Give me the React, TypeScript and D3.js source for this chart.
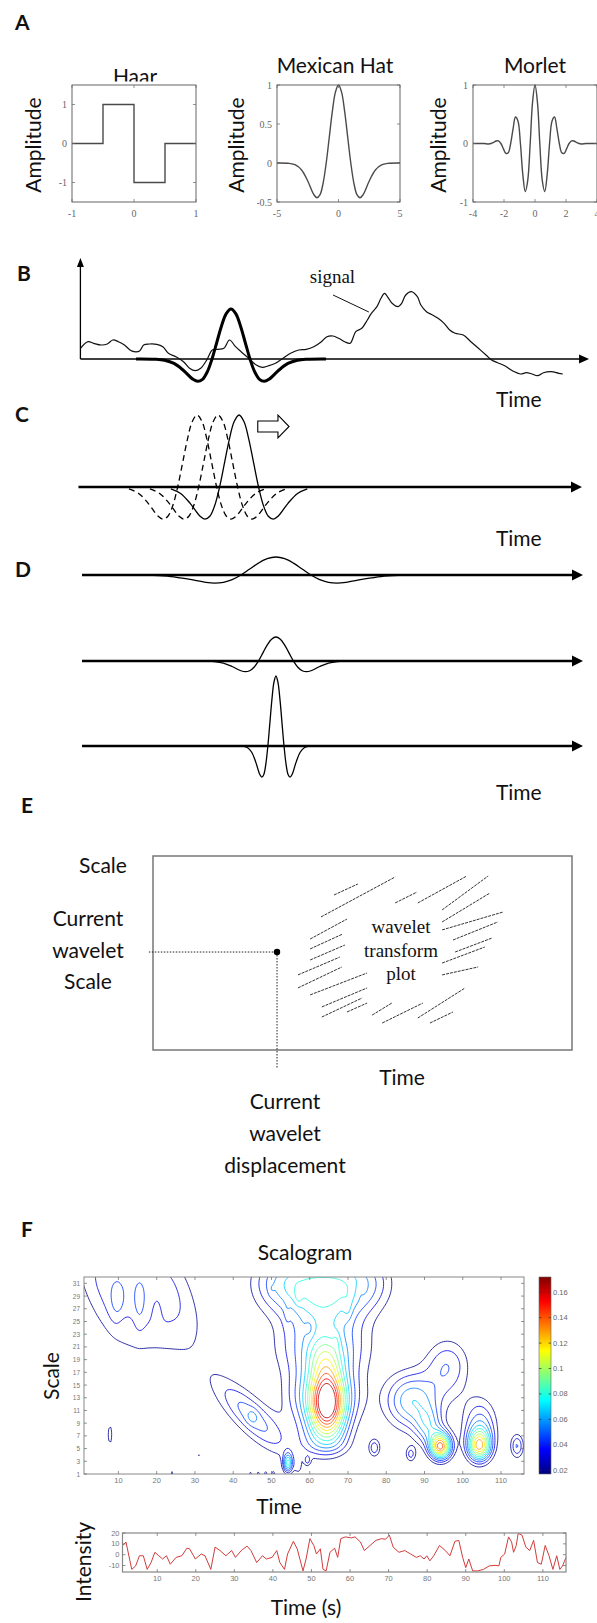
import React, { useEffect, useRef } from 'react';
import * as d3 from 'd3';

const W = 597;
const H = 1623;
const SANS = 'Lato, "Open Sans", "DejaVu Sans", sans-serif';
const SERIF = '"Liberation Serif", "DejaVu Serif", serif';
const SMALL = '"Liberation Sans", Arial, sans-serif';

// ---- A: mother wavelets ----
const haarT = [-1, -0.5, -0.5, 0, 0, 0.5, 0.5, 1];
const haarV = [0, 0, 1, 1, -1, -1, 0, 0];

const mexHatT = [-5, -4, -3.5, -3, -2.5, -2, -1.75, -1.5, -1.25, -1, -0.75, -0.5, -0.25, 0, 0.25, 0.5, 0.75, 1, 1.25, 1.5, 1.75, 2, 2.5, 3, 3.5, 4, 5];
const mexHatV = [0, -0.005, -0.025, -0.089, -0.23, -0.406, -0.446, -0.406, -0.258, 0, 0.33, 0.662, 0.909, 1, 0.909, 0.662, 0.33, 0, -0.258, -0.406, -0.446, -0.406, -0.23, -0.089, -0.025, -0.005, 0];

const morletT = [-4, -3.3, -3, -2.83, -2.67, -2.51, -2.36, -2.2, -2.04, -1.88, -1.73, -1.57, -1.41, -1.26, -1.1, -0.94, -0.79, -0.63, -0.47, -0.31, -0.16, 0,
  0.16, 0.31, 0.47, 0.63, 0.79, 0.94, 1.1, 1.26, 1.41, 1.57, 1.73, 1.88, 2.04, 2.2, 2.36, 2.51, 2.67, 2.83, 3, 3.3, 4];
const morletV = [0, 0, -0.008, 0, 0.02, 0.042, 0.044, 0, -0.088, -0.169, -0.159, 0, 0.26, 0.454, 0.386, 0, -0.52, -0.821, -0.633, 0, 0.698, 1,
  0.698, 0, -0.633, -0.821, -0.52, 0, 0.386, 0.454, 0.26, 0, -0.159, -0.169, -0.088, 0, 0.044, 0.042, 0.02, 0, -0.008, 0, 0];

const haarXTicks = [-1, 0, 1];
const haarYTicks = [-1, 0, 1];
const mexXTicks = [-5, 0, 5];
const mexYTicks = [-0.5, 0, 0.5, 1];
const morletXTicks = [-4, -2, 0, 2, 4];
const morletYTicks = [-1, 0, 1];

// ---- B: signal (time 0..100, amplitude) ----
const signalT = [0.1, 1.6, 2.7, 4.2, 5.4, 6.5, 7.6, 8.8, 9.9, 10.7, 11.8, 12.6, 13.7, 15.2, 16.4, 17.5, 19, 20.5, 21.7, 22.8, 23.9, 25.1, 26.2, 27.3, 28.5, 29.6, 30.8, 31.9, 33.4, 34.9, 36.1, 37.2, 38.7, 40.2, 41.7, 43.3, 44.8, 46.3, 47.8, 48.9, 50.1, 51.2, 52.4, 53.5, 54.6, 55.8, 56.9, 57.7, 58.8, 59.6, 60.3, 61.1, 61.8, 63, 63.7, 64.5, 65.6, 66.8, 67.5, 68.6, 69.8, 70.9, 72.1, 73.2, 74.3, 75.9, 77.4, 78.9, 80.4, 81.5, 82.7, 84.2, 85.7, 87.2, 88.4, 89.5, 90.6, 91.8, 93.3, 94.8, 95.6];
const signalV = [10.7, 17.3, 15.7, 14, 15, 19, 17.3, 14, 9, 7.3, 8, 14, 15, 14.7, 12.3, 5.7, 2.3, -2.7, -9.3, -11.7, -9.3, -1, 9, 9.7, 10.7, 19, 12.3, 7.3, 0.7, -6, -8.3, -7, -4.3, 0.7, 5.7, 9, 9.7, 12.3, 17.3, 22.3, 23, 20.7, 17.3, 15.7, 27.3, 30.7, 39, 45.7, 52.3, 60.7, 65.7, 60.7, 55.7, 52.3, 55.7, 64, 67.3, 62.3, 54, 47.3, 44, 40.7, 35.7, 29, 25.7, 24, 17.3, 10.7, 4, -1, -3.7, -7, -12, -15, -13.7, -15, -16.7, -13.7, -12.7, -14.3, -15];

// ---- C / D: wavelet placements ----
const cShifts = [-8.3, -4.15, 0]; // two dashed earlier positions, solid current one
const dDilation = [6.93, 3.47, 1.6];
const dAmplitude = [18, 24, 70];

// ---- E: hatch strokes of the sketched transform plot (u1, v1, u2, v2 in box %) ----
const hatch = [
  [43.2, 79.9, 48.9, 85.6], [40.1, 68.6, 57.8, 89.2], [37.5, 57.2, 46.3, 67.5], [37.5, 52.1, 45.3, 59.8],
  [37.5, 46.4, 45.8, 54.1], [34.6, 38.7, 44.6, 47.9], [34.6, 32.0, 45.1, 42.8], [37.5, 28.4, 51.1, 39.7],
  [40.3, 22.2, 51.1, 32.0], [40.3, 17.0, 49.9, 26.8], [46.3, 19.6, 51.1, 24.2], [52.3, 18.0, 57.0, 24.2],
  [54.7, 13.9, 64.4, 24.2], [63.2, 16.5, 74.5, 32.0], [66.1, 13.9, 71.6, 19.6], [69.0, 38.7, 77.6, 42.8],
  [69.0, 44.8, 79.2, 53.1], [72.1, 50.5, 80.9, 57.7], [71.6, 56.7, 82.3, 66.0], [69.0, 61.9, 83.5, 71.1],
  [69.0, 66.0, 80.4, 80.9], [69.0, 72.2, 80.0, 89.7], [63.2, 75.8, 74.9, 89.7], [57.8, 75.8, 63.0, 81.4],
];

// ---- F: scalogram peaks [time, scale, amp, widthT, widthS below, widthS above, tilt, power] ----
const scaloPeaks = [
  // central burst (funnel widening to high scales)
  [64.5, 12, 0.14, 4.5, 5, 5, 0, 2],
  [64, 19, 0.05, 5, 4, 4, 0, 2],
  [63.5, 26, 0.03, 8, 4, 5, 0, 2],
  [64, 6, 0.035, 7, 2.5, 4, 0, 2.5],
  [63.5, 13, 0.05, 10.5, 5, 5, 0, 3],
  [63.5, 21, 0.04, 13.5, 5, 5, 0, 3],
  [63, 31, 0.075, 17, 5, 5, 0, 3.5],
  [57, 2, 0.015, 1.2, 1.5, 1.5, 0, 2],
  [71, 2, 0.015, 1.2, 1.5, 1.5, 0, 2],
  [57, 29, 0.012, 1, 1.5, 1.5, 0, 2],
  [70, 27, 0.012, 1.2, 2, 2, 0, 2],
  [60, 24, -0.01, 1.2, 1.5, 1.5, 0, 2],
  [67, 22, 0.01, 1, 1.5, 1.5, 0, 2],
  [54, 26, 0.008, 0.8, 2, 2, 0, 2],
  [73, 30, -0.008, 1, 1.5, 1.5, 0, 2],
  [50, 30, 0.006, 0.7, 1, 1, 0, 2],
  // slanted blob left of the burst
  [45, 10, 0.05, 6, 6, 6, -1.3, 2],
  [45, 10, 0.012, 1.5, 1.2, 1.2, 0, 2],
  // right group
  [86.5, 12.5, 0.065, 7, 4.5, 4.5, 0, 2],
  [91, 8.5, 0.045, 3.5, 3, 3, 0, 2],
  [94.2, 5.3, 0.14, 2.8, 2, 2.2, 0, 2],
  [96, 18, 0.042, 6, 5, 4.5, 0, 2],
  [104.3, 5.3, 0.11, 3, 2.3, 2.5, 0, 2],
  [104.5, 8.5, 0.05, 4.5, 4, 4.5, 0, 2],
  // small islands
  [76.9, 5.1, 0.04, 1.6, 1.5, 1.5, 0, 2],
  [86.4, 4.1, 0.035, 1.4, 1.3, 1.3, 0, 2],
  [114.2, 5.4, 0.045, 1.8, 2, 2, 0, 2],
  [54.3, 2.7, 0.075, 1.2, 1.5, 1.5, 0, 2],
  [59.4, 3.1, 0.026, 0.8, 0.8, 0.8, 0, 2],
  [7.8, 7.2, 0.026, 0.9, 2.5, 2.5, 0, 2],
  [31.2, 3.9, 0.023, 0.7, 0.5, 0.5, 0, 2],
  [24, 1, 0.024, 0.5, 0.9, 0.9, 0, 2],
  [44.6, 1, 0.028, 0.5, 0.5, 0.5, 0, 2],
  [46.6, 1, 0.03, 0.5, 0.5, 0.5, 0, 2],
  [48.5, 1, 0.032, 0.5, 0.5, 0.5, 0, 2],
  [50.4, 1, 0.034, 0.5, 0.5, 0.5, 0, 2],
  // top-left plateau
  [15, 30, 0.04, 15, 11, 10, -0.6, 4],
  [9.5, 28, 0.012, 2, 3.5, 3.5, 0, 2],
  [15.5, 27.5, 0.01, 1.5, 4, 4, 0, 2],
  [20, 27, -0.008, 1.5, 3, 3, 0, 2],
  [12, 24.5, -0.006, 2, 1.5, 1.5, 0, 2],
];
const scaloLevels = [0.02, 0.032, 0.044, 0.056, 0.068, 0.08, 0.092, 0.104, 0.116, 0.128, 0.14, 0.152, 0.164];
const scaloXTicks = [10, 20, 30, 40, 50, 60, 70, 80, 90, 100, 110];
const scaloYTicks = d3.range(1, 32, 2);
const colorbarTicks = [0.02, 0.04, 0.06, 0.08, 0.1, 0.12, 0.14, 0.16];

// ---- F: intensity trace ----
const intensityT = [1.1, 1.9, 3.4, 4.4, 5.4, 6.4, 7.4, 8.4, 9.4, 10.4, 11.4, 12.4, 13.4, 14.9, 16.4, 17.7, 18.4, 19.9, 21.4, 22.4, 23.9, 25, 26.3, 27.8, 29.3, 30.3, 31.8, 33.3, 34.3, 35.8, 37.3, 38.3, 39.8, 41, 41.8, 43, 43.8, 45.3, 46.3, 47.8, 48.6, 49.6, 50.6, 51.3, 52.3, 53, 53.8, 54.8, 56, 56.8, 57.6, 58.8, 60.3, 61.3, 62.7, 63.7, 65.2, 66.7, 68.2, 69.2, 70.2, 71.2, 72.7, 74.2, 75.7, 77.2, 78.2, 79.2, 79.9, 80.7, 81.7, 83.2, 84.7, 85.9, 87.2, 88.2, 89.2, 90, 90.8, 91.8, 93.1, 94.6, 96.1, 97.6, 98.6, 99.1, 100.1, 101.1, 101.9, 102.4, 103.1, 103.6, 104.6, 105.6, 106.6, 107.6, 108.6, 109.6, 110.6, 111.6, 112.6, 113.6, 114.4, 115.1, 116];
const intensityV = [8.5, 11.7, -13.6, -10.4, -1, -1, -13.6, -7.3, 2.2, -1, -4, -1, -8.8, -2.5, -1, 6, 5.4, -4, 0.6, -1, -13.6, 7, 3.8, -1, 3.8, -2.5, 3.8, 7.9, 3.8, -7.3, -1, -4, -2.5, 3.8, -7.3, -13.6, 0.6, 12.3, 5.4, -15, -4, 14.8, 8.5, 0.6, 5.4, -13.6, -15, 2.2, 6, -2.5, 14.8, 16.4, 15.5, 16.4, 11.7, 3.8, 8.5, 13.2, 14.8, 14.2, 18, 6.9, 2.2, 3.8, 0.6, -2.5, -1, -4, -1, -5.7, -1, 8.5, 3.8, -1, 12.3, 13.2, -2.5, -12, -4, -15, -15, -13.6, -10.4, -9.8, -10.4, -2.5, 0.6, 16.4, 11.7, 2.2, 8.5, 19.6, 18, 6.9, 3.8, 13.2, -7.3, -8.8, 8.5, -1, -13.6, -1, -13.6, -10.4, -2.5];
const intensityXTicks = [10, 20, 30, 40, 50, 60, 70, 80, 90, 100, 110];
const intensityYTicks = [-10, 0, 10, 20];

function jet(x: number) {
  const c = (v: number) => Math.max(0, Math.min(1, v));
  const r = c(Math.min(4 * x - 1.5, -4 * x + 4.5));
  const g = c(Math.min(4 * x - 0.5, -4 * x + 3.5));
  const b = c(Math.min(4 * x + 0.5, -4 * x + 2.5));
  return d3.rgb(r * 255, g * 255, b * 255).toString();
}

export default function App() {
  const ref = useRef<SVGSVGElement>(null);

  useEffect(() => {
    if (!ref.current) return;
    const svg = d3.select(ref.current);
    svg.selectAll('*').remove();
    const defs = svg.append('defs');

    const label = (x: number, y: number, s: string, size = 21, opts: any = {}) => {
      const t = svg.append('text')
        .attr('x', x).attr('y', y).text(s)
        .attr('font-family', opts.family || SANS)
        .attr('font-size', size)
        .attr('fill', opts.fill || '#111')
        .attr('text-anchor', opts.anchor || 'middle');
      if (opts.weight) t.attr('font-weight', opts.weight);
      if (opts.rotate) {
        t.attr('x', 0).attr('y', 0).attr('dominant-baseline', 'central')
          .attr('transform', `translate(${x},${y}) rotate(-90)`);
      }
      return t;
    };

    const arrowRight = (x: number, y: number, len: number, half: number) =>
      svg.append('path').attr('d', `M${x},${y}L${x - len},${y - half}L${x - len},${y + half}Z`).attr('fill', '#000');

    // panel letters
    [['A', 15, 30], ['B', 17, 281], ['C', 15, 422], ['D', 15, 577], ['E', 21, 813], ['F', 21, 1237]].forEach(([s, x, y]) =>
      label(x as number, y as number, s as string, 21, { weight: 700, anchor: 'start' }));

    // ---------------- A ----------------
    defs.append('clipPath').attr('id', 'haarTitleClip').append('rect').attr('x', 0).attr('y', 0).attr('width', W).attr('height', 81.5);
    defs.append('clipPath').attr('id', 'mexLabelClip').append('rect').attr('x', 257).attr('y', 0).attr('width', 40).attr('height', 230);

    const small = [
      { title: 'Haar', x0: 72, x1: 196, xDom: [-1, 1], yDom: [-1.5, 1.5], xTicks: haarXTicks, yTicks: haarYTicks, ts: haarT, vs: haarV, curve: d3.curveLinear, ampX: 32.5, titleX: 135, titleY: 84, titleClip: 'haarTitleClip', labelClip: null },
      { title: 'Mexican Hat', x0: 277, x1: 400, xDom: [-5, 5], yDom: [-0.5, 1], xTicks: mexXTicks, yTicks: mexYTicks, ts: mexHatT, vs: mexHatV, curve: d3.curveCatmullRom.alpha(0.5), ampX: 235, titleX: 335, titleY: 73, titleClip: null, labelClip: 'mexLabelClip' },
      { title: 'Morlet', x0: 473, x1: 597, xDom: [-4, 4], yDom: [-1, 1], xTicks: morletXTicks, yTicks: morletYTicks, ts: morletT, vs: morletV, curve: d3.curveCatmullRom.alpha(0.5), ampX: 437, titleX: 535, titleY: 73, titleClip: null, labelClip: null },
    ];
    small.forEach(p => {
      const x = d3.scaleLinear(p.xDom, [p.x0, p.x1]);
      const y = d3.scaleLinear(p.yDom, [202, 85]);
      const g = svg.append('g');
      const pts = p.ts.map((t, i) => [t, p.vs[i]] as [number, number]);
      g.append('path')
        .attr('d', d3.line<[number, number]>().x(d => x(d[0])).y(d => y(d[1])).curve(p.curve)(pts) || '')
        .attr('fill', 'none').attr('stroke', '#4a4a4a').attr('stroke-width', 1.4);
      g.append('rect').attr('x', p.x0).attr('y', 85).attr('width', p.x1 - p.x0).attr('height', 117)
        .attr('fill', 'none').attr('stroke', '#555').attr('stroke-width', 0.9);
      p.xTicks.forEach(t => {
        g.append('line').attr('x1', x(t)).attr('x2', x(t)).attr('y1', 202).attr('y2', 199).attr('stroke', '#666').attr('stroke-width', 0.7);
        g.append('line').attr('x1', x(t)).attr('x2', x(t)).attr('y1', 85).attr('y2', 88).attr('stroke', '#666').attr('stroke-width', 0.7);
        g.append('text').attr('x', x(t)).attr('y', 217).attr('text-anchor', 'middle')
          .attr('font-family', SERIF).attr('font-size', 10).attr('fill', '#666').text(String(t));
      });
      const yl = g.append('g');
      if (p.labelClip) yl.attr('clip-path', `url(#${p.labelClip})`);
      p.yTicks.forEach(t => {
        g.append('line').attr('x1', p.x0).attr('x2', p.x0 + 3).attr('y1', y(t)).attr('y2', y(t)).attr('stroke', '#666').attr('stroke-width', 0.7);
        g.append('line').attr('x1', p.x1).attr('x2', p.x1 - 3).attr('y1', y(t)).attr('y2', y(t)).attr('stroke', '#666').attr('stroke-width', 0.7);
        yl.append('text').attr('x', p.x0 - 5).attr('y', y(t) + 3.5).attr('text-anchor', 'end')
          .attr('font-family', SERIF).attr('font-size', 10).attr('fill', '#666').text(String(t));
      });
      const tt = label(p.titleX, p.titleY, p.title, 21);
      if (p.titleClip) tt.attr('clip-path', `url(#${p.titleClip})`);
      label(p.ampX, 145, 'Amplitude', 21, { rotate: true });
    });

    // shared time axis for B, C, D
    const xT = d3.scaleLinear([0, 100], [80, 585]);
    const mexPts = mexHatT.map((t, i) => [t, mexHatV[i]] as [number, number]);
    const smooth = d3.curveCatmullRom.alpha(0.5);

    // ---------------- B ----------------
    const yB = d3.scaleLinear([0, 100], [359, 259]);
    svg.append('line').attr('x1', xT(0.08)).attr('x2', xT(0.08)).attr('y1', yB(0)).attr('y2', yB(94)).attr('stroke', '#000').attr('stroke-width', 1.3);
    svg.append('path').attr('d', `M${xT(0.08)},${yB(101)}L${xT(0.08) - 3.5},${yB(92)}L${xT(0.08) + 3.5},${yB(92)}Z`).attr('fill', '#000');
    svg.append('line').attr('x1', xT(0.08)).attr('x2', xT(99)).attr('y1', yB(0)).attr('y2', yB(0)).attr('stroke', '#000').attr('stroke-width', 1.3);
    arrowRight(xT(100.8), yB(0), 10, 4.5);
    const sigPts = signalT.map((t, i) => [t, signalV[i]] as [number, number]);
    svg.append('path')
      .attr('d', d3.line<[number, number]>().x(d => xT(d[0])).y(d => yB(d[1])).curve(smooth)(sigPts) || '')
      .attr('fill', 'none').attr('stroke', '#111').attr('stroke-width', 1.2);
    svg.append('path')
      .attr('d', d3.line<[number, number]>().x(d => xT(29.9 + d[0] * 3.76)).y(d => yB(50 * d[1])).curve(smooth)(mexPts) || '')
      .attr('fill', 'none').attr('stroke', '#000').attr('stroke-width', 3);
    label(xT(45.5), 283, 'signal', 19, { family: SERIF, anchor: 'start' });
    svg.append('line').attr('x1', xT(50.1)).attr('y1', yB(64)).attr('x2', xT(57.2)).attr('y2', yB(47)).attr('stroke', '#111').attr('stroke-width', 1);
    label(xT(86.9), 407, 'Time', 21);

    // ---------------- C ----------------
    const yC = d3.scaleLinear([0, 100], [487, 387]);
    svg.append('line').attr('x1', xT(-0.3)).attr('x2', xT(97.5)).attr('y1', yC(0)).attr('y2', yC(0)).attr('stroke', '#000').attr('stroke-width', 2.5);
    arrowRight(xT(99.4), yC(0), 11, 5.5);
    cShifts.forEach((sh, i) => {
      const p = svg.append('path')
        .attr('d', d3.line<[number, number]>().x(d => xT(31.5 + sh + d[0] * 3.86)).y(d => yC(72 * d[1])).curve(smooth)(mexPts.slice(2, -2)) || '')
        .attr('fill', 'none').attr('stroke', '#000').attr('stroke-width', 1.3);
      if (i < cShifts.length - 1) p.attr('stroke-dasharray', '6,4');
    });
    const arrowShape: [number, number][] = [[35.2, 55], [39.2, 55], [39.2, 49], [41.4, 60.5], [39.2, 72], [39.2, 66], [35.2, 66]];
    svg.append('path')
      .attr('d', d3.line<[number, number]>().x(d => xT(d[0])).y(d => yC(d[1]))(arrowShape) + 'Z')
      .attr('fill', '#fff').attr('stroke', '#000').attr('stroke-width', 1.1);
    label(xT(86.9), 546, 'Time', 21);

    // ---------------- D ----------------
    [575, 661, 746].forEach((ay, i) => {
      const yD = d3.scaleLinear([0, 100], [ay, ay - 100]);
      svg.append('line').attr('x1', xT(0.4)).attr('x2', xT(97.8)).attr('y1', ay).attr('y2', ay).attr('stroke', '#000').attr('stroke-width', 2.5);
      arrowRight(xT(99.6), ay, 11, 5.5);
      svg.append('path')
        .attr('d', d3.line<[number, number]>().x(d => xT(38.8 + d[0] * dDilation[i])).y(d => yD(dAmplitude[i] * d[1])).curve(smooth)(mexPts) || '')
        .attr('fill', 'none').attr('stroke', '#000').attr('stroke-width', 1.3);
    });
    label(xT(86.9), 800, 'Time', 21);

    // ---------------- E ----------------
    const eX = d3.scaleLinear([0, 100], [153, 572]);
    const eY = d3.scaleLinear([0, 100], [1050, 856]);
    svg.append('rect').attr('x', eX(0)).attr('y', eY(100)).attr('width', eX(100) - eX(0)).attr('height', eY(0) - eY(100))
      .attr('fill', 'none').attr('stroke', '#777').attr('stroke-width', 1.5);
    hatch.forEach(h => {
      svg.append('line').attr('x1', eX(h[0])).attr('y1', eY(h[1])).attr('x2', eX(h[2])).attr('y2', eY(h[3]))
        .attr('stroke', '#333').attr('stroke-width', 1).attr('stroke-dasharray', '3,1');
    });
    svg.append('line').attr('x1', eX(-1)).attr('x2', eX(29.6)).attr('y1', eY(50.5)).attr('y2', eY(50.5))
      .attr('stroke', '#222').attr('stroke-width', 1).attr('stroke-dasharray', '1.5,1.5');
    svg.append('line').attr('x1', eX(29.6)).attr('x2', eX(29.6)).attr('y1', eY(50.5)).attr('y2', eY(-9.3))
      .attr('stroke', '#222').attr('stroke-width', 1).attr('stroke-dasharray', '1.5,1.5');
    svg.append('circle').attr('cx', eX(29.6)).attr('cy', eY(50.5)).attr('r', 3.2).attr('fill', '#000');
    label(401, 933, 'wavelet', 19, { family: SERIF });
    label(401, 957, 'transform', 19, { family: SERIF });
    label(401, 980, 'plot', 19, { family: SERIF });
    label(103, 873, 'Scale', 21);
    label(88, 926, 'Current', 21);
    label(88, 958, 'wavelet', 21);
    label(88, 989, 'Scale', 21);
    label(402, 1085, 'Time', 21);
    label(285, 1109, 'Current', 21);
    label(285, 1141, 'wavelet', 21);
    label(285, 1173, 'displacement', 21);

    // ---------------- F: scalogram ----------------
    const sx = d3.scaleLinear([1, 116], [84, 524]);
    const sy = d3.scaleLinear([1, 32], [1474, 1277]);
    label(305, 1260, 'Scalogram', 21);
    label(50, 1376, 'Scale', 21, { rotate: true });
    label(279, 1514, 'Time', 21);

    const tMin = -2, tStep = 0.5, sMin = -1, sStep = 0.25;
    const nx = 243, ny = 141;
    const grid: number[] = new Array(nx * ny).fill(0);
    for (let j = 0; j < ny; j++) {
      const s = sMin + j * sStep;
      for (let i = 0; i < nx; i++) {
        const t = tMin + i * tStep;
        let v = 0;
        for (const p of scaloPeaks) {
          const [t0, s0, amp, wt, wsd, wsu, tilt, pw] = p;
          const dt = Math.abs(t - (t0 + tilt * (s - s0))) / wt;
          const ds = (s - s0) / (s < s0 ? wsd : wsu);
          v += amp * Math.exp(-Math.pow(dt, pw) - ds * ds);
        }
        grid[j * nx + i] = v;
      }
    }
    const cmin = 0.017, cmax = 0.172;
    const proj = d3.geoTransform({
      point: function (this: any, x: number, y: number) {
        this.stream.point(sx(tMin + (x - 0.5) * tStep), sy(sMin + (y - 0.5) * sStep));
      },
    });
    const gp = d3.geoPath(proj);
    defs.append('clipPath').attr('id', 'scaloClip').append('rect')
      .attr('x', sx(1)).attr('y', sy(32)).attr('width', sx(116) - sx(1)).attr('height', sy(1) - sy(32));
    const cg = svg.append('g').attr('clip-path', 'url(#scaloClip)');
    const cons = d3.contours().size([nx, ny]).thresholds(scaloLevels)(grid);
    cons.forEach(c => {
      cg.append('path').attr('d', gp(c as any) || '')
        .attr('fill', 'none').attr('stroke', jet((c.value - cmin) / (cmax - cmin)))
        .attr('stroke-width', 0.9).attr('stroke-opacity', 0.9);
    });
    svg.append('rect').attr('x', sx(1)).attr('y', sy(32)).attr('width', sx(116) - sx(1)).attr('height', sy(1) - sy(32))
      .attr('fill', 'none').attr('stroke', '#888').attr('stroke-width', 1);
    scaloXTicks.forEach(t => {
      svg.append('line').attr('x1', sx(t)).attr('x2', sx(t)).attr('y1', sy(1)).attr('y2', sy(1) - 3).attr('stroke', '#666').attr('stroke-width', 0.7);
      svg.append('line').attr('x1', sx(t)).attr('x2', sx(t)).attr('y1', sy(32)).attr('y2', sy(32) + 3).attr('stroke', '#666').attr('stroke-width', 0.7);
      svg.append('text').attr('x', sx(t)).attr('y', sy(1) + 9).attr('text-anchor', 'middle')
        .attr('font-family', SMALL).attr('font-size', 7.5).attr('fill', '#777').text(String(t));
    });
    scaloYTicks.forEach(s => {
      svg.append('line').attr('x1', sx(1)).attr('x2', sx(1) + 3).attr('y1', sy(s)).attr('y2', sy(s)).attr('stroke', '#666').attr('stroke-width', 0.7);
      svg.append('line').attr('x1', sx(116)).attr('x2', sx(116) - 3).attr('y1', sy(s)).attr('y2', sy(s)).attr('stroke', '#666').attr('stroke-width', 0.7);
      svg.append('text').attr('x', sx(1) - 4).attr('y', sy(s) + 2.5).attr('text-anchor', 'end')
        .attr('font-family', SMALL).attr('font-size', 6.5).attr('fill', '#777').text(String(s));
    });

    // colorbar
    const cy = d3.scaleLinear([cmin, cmax], [1474, 1277]);
    const grad = defs.append('linearGradient').attr('id', 'jetGrad').attr('x1', 0).attr('y1', 1).attr('x2', 0).attr('y2', 0);
    d3.range(0, 1.0001, 0.125).forEach(f => grad.append('stop').attr('offset', f).attr('stop-color', jet(f)));
    svg.append('rect').attr('x', 539).attr('y', cy(cmax)).attr('width', 12).attr('height', cy(cmin) - cy(cmax))
      .attr('fill', 'url(#jetGrad)').attr('stroke', '#666').attr('stroke-width', 0.6);
    colorbarTicks.forEach(v => {
      svg.append('line').attr('x1', 539).attr('x2', 541.5).attr('y1', cy(v)).attr('y2', cy(v)).attr('stroke', '#333').attr('stroke-width', 0.7);
      svg.append('line').attr('x1', 551).attr('x2', 548.5).attr('y1', cy(v)).attr('y2', cy(v)).attr('stroke', '#333').attr('stroke-width', 0.7);
      svg.append('text').attr('x', 553).attr('y', cy(v) + 2.5).attr('font-family', SMALL).attr('font-size', 7.5)
        .attr('fill', '#666').text(String(v));
    });

    // ---------------- F: intensity ----------------
    const ix = d3.scaleLinear([1, 116], [122.5, 566]);
    const iy = d3.scaleLinear([-16, 20], [1572, 1533]);
    const iPts = intensityT.map((t, i) => [t, intensityV[i]] as [number, number]);
    svg.append('path')
      .attr('d', d3.line<[number, number]>().x(d => ix(d[0])).y(d => iy(d[1]))(iPts) || '')
      .attr('fill', 'none').attr('stroke', '#d23c3c').attr('stroke-width', 1);
    svg.append('rect').attr('x', ix(1)).attr('y', iy(20)).attr('width', ix(116) - ix(1)).attr('height', iy(-16) - iy(20))
      .attr('fill', 'none').attr('stroke', '#888').attr('stroke-width', 1.2);
    intensityXTicks.forEach(t => {
      svg.append('line').attr('x1', ix(t)).attr('x2', ix(t)).attr('y1', iy(-16)).attr('y2', iy(-16) - 3).attr('stroke', '#666').attr('stroke-width', 0.7);
      svg.append('line').attr('x1', ix(t)).attr('x2', ix(t)).attr('y1', iy(20)).attr('y2', iy(20) + 3).attr('stroke', '#666').attr('stroke-width', 0.7);
      svg.append('text').attr('x', ix(t)).attr('y', iy(-16) + 9).attr('text-anchor', 'middle')
        .attr('font-family', SMALL).attr('font-size', 7.5).attr('fill', '#777').text(String(t));
    });
    intensityYTicks.forEach(v => {
      svg.append('line').attr('x1', ix(1)).attr('x2', ix(1) + 3).attr('y1', iy(v)).attr('y2', iy(v)).attr('stroke', '#666').attr('stroke-width', 0.7);
      svg.append('line').attr('x1', ix(116)).attr('x2', ix(116) - 3).attr('y1', iy(v)).attr('y2', iy(v)).attr('stroke', '#666').attr('stroke-width', 0.7);
      svg.append('text').attr('x', ix(1) - 3).attr('y', iy(v) + 2.5).attr('text-anchor', 'end')
        .attr('font-family', SMALL).attr('font-size', 7.5).attr('fill', '#777').text(String(v));
    });
    label(82, 1562, 'Intensity', 21, { rotate: true });
    label(306, 1615, 'Time (s)', 21);
  }, []);

  return (
    <svg
      ref={ref}
      width={W}
      height={H}
      style={{ position: 'absolute', left: 0, top: 0, background: '#fff', display: 'block' }}
    />
  );
}
